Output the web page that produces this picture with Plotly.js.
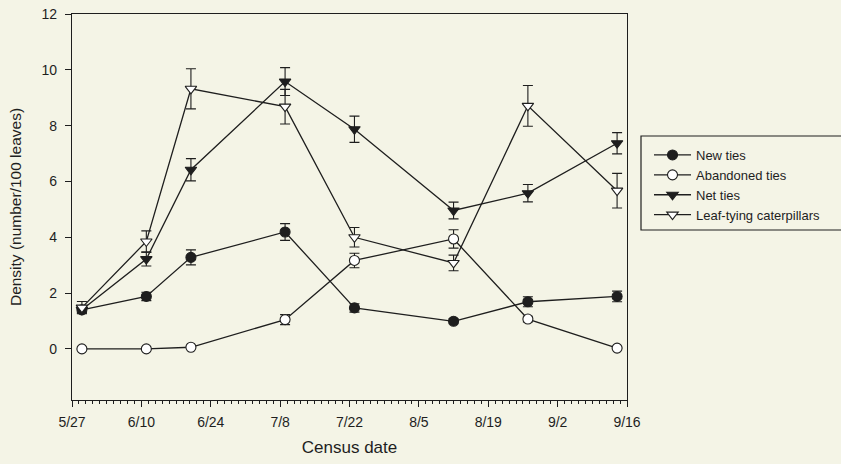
<!DOCTYPE html>
<html>
<head>
<meta charset="utf-8">
<script src="https://cdn.plot.ly/plotly-3.0.1.min.js"></script>
<style>html,body{margin:0;padding:0;background:#f4f4e6;}</style>
</head>
<body>
<div id="chart" style="width:841px;height:464px;"></div>
<script>
// Census dates
const censusDates = ['2000-05-29','2000-06-11','2000-06-20','2000-07-09','2000-07-23','2000-08-12','2000-08-27','2000-09-14'];

// Series values and standard errors
const newTies      = [1.40, 1.88, 3.28, 4.19, 1.47, 0.99, 1.69, 1.88];
const newTiesErr   = [0.10, 0.15, 0.27, 0.30, 0.15, 0.09, 0.18, 0.19];

const abandonedTies    = [0.00, 0.00, 0.06, 1.05, 3.17, 3.94, 1.07, 0.03];
const abandonedTiesErr = [0.00, 0.00, 0.00, 0.18, 0.26, 0.33, 0.10, 0.00];

const netTies    = [1.40, 3.22, 6.42, 9.58, 7.87, 4.96, 5.58, 7.37];
const netTiesErr = [0.12, 0.25, 0.40, 0.50, 0.47, 0.30, 0.31, 0.38];

const caterpillars    = [1.48, 3.85, 9.32, 8.68, 4.00, 3.08, 8.71, 5.67];
const caterpillarsErr = [0.22, 0.38, 0.72, 0.62, 0.35, 0.28, 0.73, 0.62];

// Axis ticks
const xRange = ['2000-05-27', '2000-09-16'];
const xTickVals = ['2000-05-27','2000-06-10','2000-06-24','2000-07-08','2000-07-22','2000-08-05','2000-08-19','2000-09-02','2000-09-16'];
const xTickText = ['5/27','6/10','6/24','7/8','7/22','8/5','8/19','9/2','9/16'];
const yTickVals = [0, 2, 4, 6, 8, 10, 12];

const ink = '#1e1e1e';
const bg = '#f4f4e6';

function trace(name, y, err, symbol, fill) {
  return {
    type: 'scatter', mode: 'lines+markers', name: name,
    x: censusDates, y: y,
    line: {color: ink, width: 1.3},
    marker: {symbol: symbol, size: 10,
             color: fill, line: {color: ink, width: 1.1}},
    error_y: {type: 'data', array: err, visible: true, color: ink, thickness: 1.1, width: 5}
  };
}

const data = [
  trace('New ties', newTies, newTiesErr, 'circle', ink),
  trace('Abandoned ties', abandonedTies, abandonedTiesErr, 'circle', '#ffffff'),
  trace('Net ties', netTies, netTiesErr, 'triangle-down', ink),
  trace('Leaf-tying caterpillars', caterpillars, caterpillarsErr, 'triangle-down', '#ffffff'),
  // carrier for the minor-tick axis (invisible)
  {type: 'scatter', mode: 'markers', x: xRange, y: [null, null], xaxis: 'x2', yaxis: 'y',
   showlegend: false, hoverinfo: 'skip', marker: {opacity: 0}}
];

const layout = {
  width: 841, height: 464,
  paper_bgcolor: bg, plot_bgcolor: bg,
  margin: {l: 72, r: 214, t: 14, b: 64, autoexpand: false},
  font: {family: 'Liberation Sans, Arial, sans-serif', color: ink, size: 14},
  showlegend: true,
  legend: {
    x: (649 - 72) / 555, y: (400 - 140) / 386, xanchor: 'left', yanchor: 'top',
    bgcolor: 'rgba(0,0,0,0)', borderwidth: 0,
    font: {size: 13, color: ink},
    itemwidth: 37,
    tracegroupgap: 0
  },
  shapes: [{
    type: 'rect', xref: 'paper', yref: 'paper',
    x0: (641 - 72) / 555, x1: (900 - 72) / 555,
    y0: (400 - 230) / 386, y1: (400 - 136) / 386,
    line: {color: ink, width: 1.2}, fillcolor: 'rgba(0,0,0,0)', layer: 'below'
  }],
  xaxis: {
    type: 'date',
    range: xRange,
    tickmode: 'array', tickvals: xTickVals, ticktext: xTickText,
    ticks: 'outside', ticklen: 6, tickcolor: ink, tickwidth: 1,
    ticklabelstandoff: 3,
    showline: true, linecolor: ink, linewidth: 1.2, mirror: true,
    showgrid: false, zeroline: false,
    tickfont: {size: 14},
    title: {text: 'Census date', font: {size: 17}, standoff: 12}
  },
  xaxis2: {
    type: 'date', overlaying: 'x', anchor: 'y', side: 'bottom',
    range: xRange,
    tickmode: 'linear', tick0: xRange[0], dtick: 1.4 * 86400000,
    ticks: 'outside', ticklen: 3, tickcolor: ink, tickwidth: 1,
    showticklabels: false, showgrid: false, zeroline: false, showline: false
  },
  yaxis: {
    range: [-1.83, 12],
    tickmode: 'array', tickvals: yTickVals,
    ticks: 'outside', ticklen: 6, tickcolor: ink, tickwidth: 1,
    ticklabelstandoff: 5,
    showline: true, linecolor: ink, linewidth: 1.2, mirror: true,
    showgrid: false, zeroline: false,
    tickfont: {size: 14},
    title: {text: 'Density (number/100 leaves)', font: {size: 15.5}, standoff: 16}
  }
};

Plotly.newPlot('chart', data, layout, {displayModeBar: false, staticPlot: true});
</script>
</body>
</html>
